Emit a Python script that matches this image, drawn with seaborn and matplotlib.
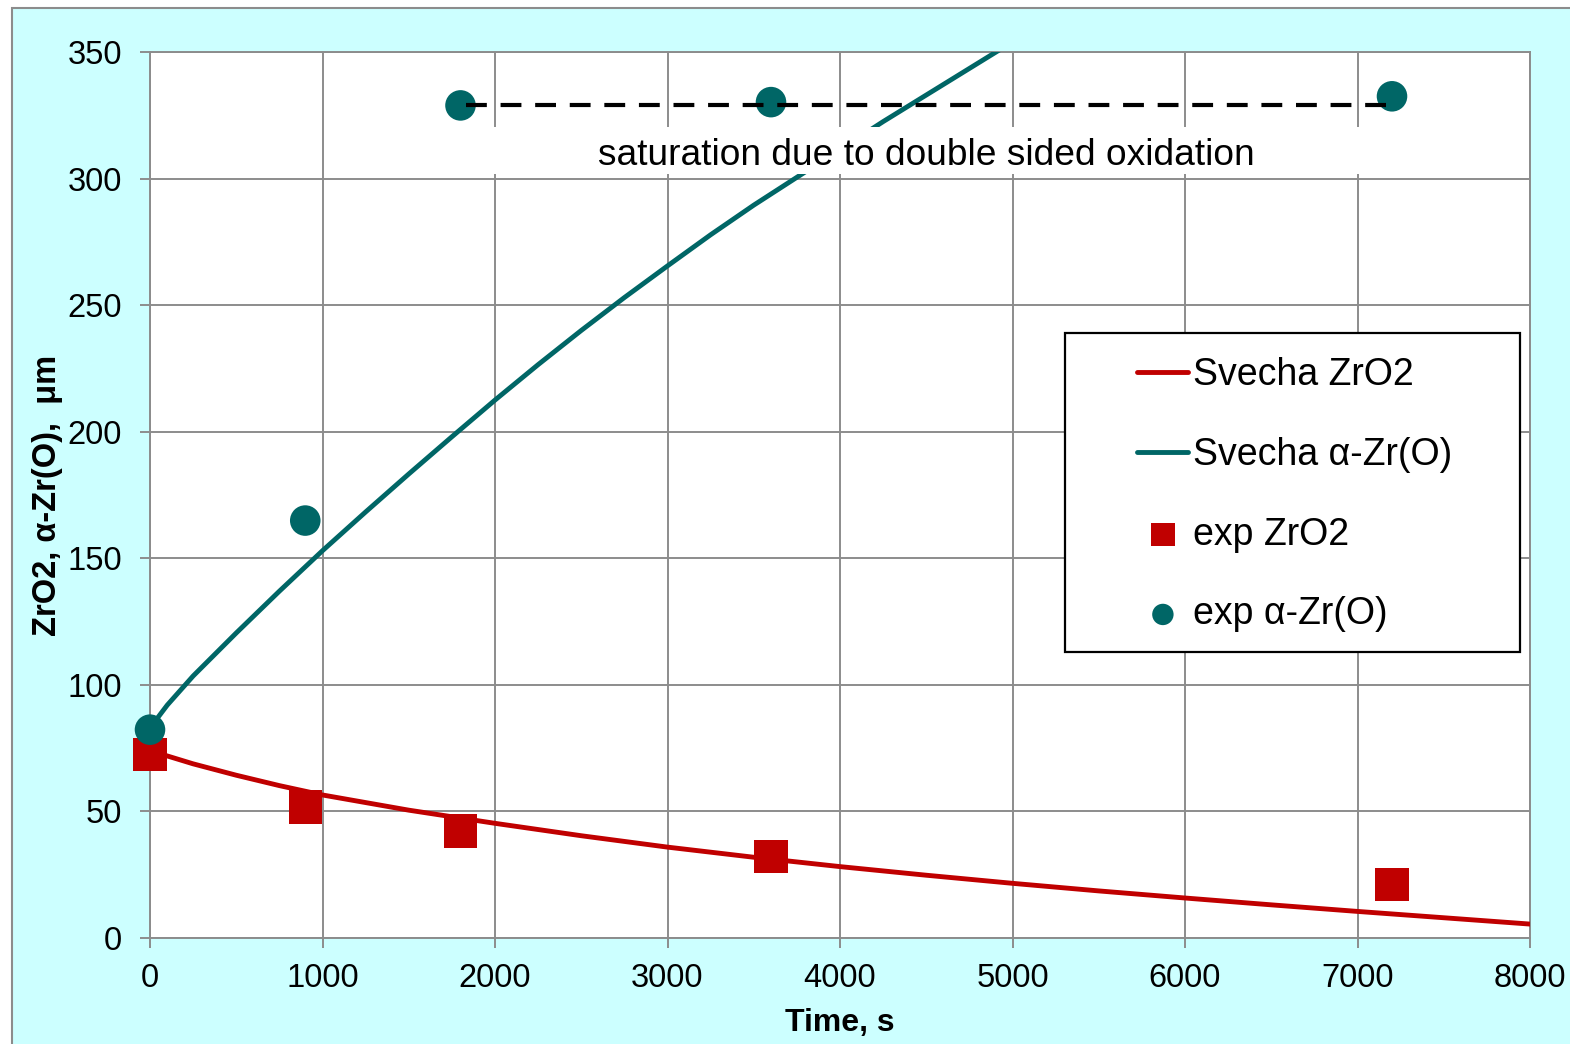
import matplotlib
matplotlib.use("Agg")
import matplotlib.pyplot as plt
from matplotlib.patches import Rectangle
import seaborn as sns
import pandas as pd

# ---------------- data ----------------
t_model_zro2 = [0, 250, 500, 750, 1000, 1500, 2000, 2500, 3000, 3500, 4000,
                4500, 5000, 5500, 6000, 6500, 7000, 7500, 8000]
svecha_zro2 = [74, 68.8, 64.3, 60.2, 56.5, 50.5, 45.3, 40.4, 35.9, 31.9,
               28.2, 24.8, 21.6, 18.6, 15.8, 13.1, 10.5, 8.0, 5.5]

t_model_azr = [0, 50, 100, 250, 500, 750, 1000, 1250, 1500, 1750, 2000, 2250,
               2500, 2750, 3000, 3250, 3500, 3750, 4000, 4250, 4500, 4750,
               5000]
svecha_azr = [82.5, 87.5, 92, 103.5, 120.5, 137, 153, 168.3, 183.3, 198,
              212.5, 226.5, 240, 253, 265.5, 277.8, 289.5, 300.5, 311.5,
              322.5, 333, 343.5, 354]

t_exp = [0, 900, 1800, 3600, 7200]
exp_zro2 = [72.5, 51.8, 42.3, 32.2, 21.2]
exp_azr = [82.3, 164.9, 328.9, 330.2, 332.5]

sat_t = [1830, 7230]
sat_val = [329, 329]
sat_text = "saturation due to double sided oxidation"

x_ticks = [0, 1000, 2000, 3000, 4000, 5000, 6000, 7000, 8000]
y_ticks = [0, 50, 100, 150, 200, 250, 300, 350]

RED = "#C00000"
TEAL = "#006666"
GRID = "#8C8C8C"
BG = "#CCFFFF"

sns.set_style("white")
plt.rcParams['font.family'] = ['Liberation Sans', 'DejaVu Sans']
plt.rcParams['text.color'] = 'black'
plt.rcParams['axes.labelcolor'] = 'black'
plt.rcParams['xtick.color'] = 'black'
plt.rcParams['ytick.color'] = 'black'

fig = plt.figure(figsize=(15.7, 10.44), dpi=100, facecolor="white")
bg = Rectangle((12 / 1570, -0.02), 1.1, 1 - 7.5 / 1044 + 0.02,
               transform=fig.transFigure, facecolor=BG,
               edgecolor=GRID, lw=1.5, zorder=-10)
fig.patches.append(bg)

ax = fig.add_axes([150 / 1570, 1 - 938 / 1044, 1380 / 1570, 886 / 1044])
ax.set_facecolor("white")

df_z = pd.DataFrame({"t": t_model_zro2, "v": svecha_zro2})
df_a = pd.DataFrame({"t": t_model_azr, "v": svecha_azr})
df_e = pd.DataFrame({"t": t_exp, "z": exp_zro2, "a": exp_azr})

sns.lineplot(data=df_z, x="t", y="v", color=RED, lw=3.5, ax=ax,
             label="Svecha ZrO2", zorder=3, legend=False)
sns.lineplot(data=df_a, x="t", y="v", color=TEAL, lw=3.5, ax=ax,
             label="Svecha α-Zr(O)", zorder=3, legend=False)
sns.scatterplot(data=df_e, x="t", y="z", marker="s", s=24 ** 2, color=RED,
                edgecolor="none", linewidth=0, ax=ax, label="exp ZrO2",
                zorder=4, legend=False, clip_on=False)
sns.scatterplot(data=df_e, x="t", y="a", marker="o", s=22 ** 2, color=TEAL,
                edgecolor="none", linewidth=0, ax=ax, label="exp α-Zr(O)",
                zorder=5, legend=False, clip_on=False)

# saturation annotation
ax.plot(sat_t, sat_val, color="black", lw=3, dashes=(5, 3.3), zorder=7,
        solid_capstyle="butt", dash_capstyle="butt")
ax.add_patch(Rectangle((1870, 302.0), 5300, 18.3, facecolor="white",
                       edgecolor="none", zorder=6))
ax.text(4500, 309.3, sat_text, ha="center", va="center", fontsize=26.7,
        color="black", zorder=7)

ax.set_xlim(0, 8000)
ax.set_ylim(0, 350)
ax.set_xticks(x_ticks)
ax.set_yticks(y_ticks)
ax.grid(True, color=GRID, lw=1.4)
ax.set_axisbelow(True)
for sp in ax.spines.values():
    sp.set_color(GRID)
    sp.set_linewidth(1.4)
    sp.set_visible(True)
ax.tick_params(axis="both", which="major", direction="out", length=7.2,
               width=1.4, color=GRID, labelsize=23.5, labelcolor="black",
               left=True, bottom=True)
ax.tick_params(axis="y", pad=13)
ax.tick_params(axis="x", pad=11)

ax.set_xlabel("Time, s", fontsize=23, fontweight="bold", labelpad=10,
              color="black")
ax.set_ylabel("ZrO2, α-Zr(O),  μm", fontsize=23.5, fontweight="bold",
              labelpad=3, color="black")

# legend box and legend
ax.add_patch(Rectangle((0.663, 0.323), 0.330, 0.360, transform=ax.transAxes,
                       facecolor="white", edgecolor="black", lw=1.6,
                       zorder=8))
handles, labels = ax.get_legend_handles_labels()
leg = ax.legend(handles, labels, loc="upper left",
                bbox_to_anchor=(0.7155, 0.6555), frameon=False,
                fontsize=27, handlelength=1.36, handletextpad=0.13,
                labelspacing=1.165, borderpad=0, borderaxespad=0,
                markerscale=0.7)
leg.set_zorder(9)

fig.savefig("out.png", dpi=100, facecolor=fig.get_facecolor())
